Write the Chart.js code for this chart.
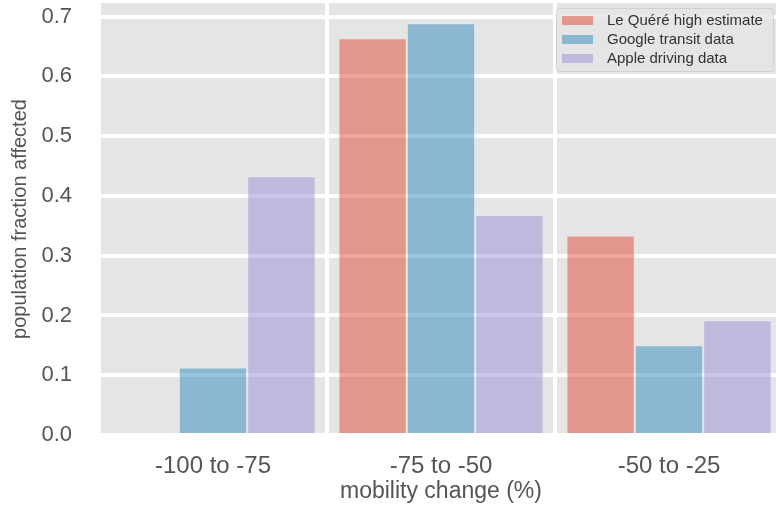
<!DOCTYPE html>
<html>
<head>
<meta charset="utf-8">
<script src="https://cdn.jsdelivr.net/npm/chart.js@4/dist/chart.umd.min.js"></script>
<style>
  html, body { margin: 0; padding: 0; background: #fff; overflow: hidden; }
</style>
</head>
<body>
<canvas id="mobilityChart" width="790" height="508"></canvas>
<script>
// Mobility change bins (x categories)
const categories = ['-100 to -75', '-75 to -50', '-50 to -25'];

// Population fraction per bin, one array per source
const lequereHigh = [0, 0.664, 0.334];
const googleTransit = [0.113, 0.689, 0.150];
const appleDriving = [0.433, 0.368, 0.192];

// Y axis tick values
const yTicks = [0, 0.1, 0.2, 0.3, 0.4, 0.5, 0.6, 0.7];

const FONT = "'Liberation Sans', Arial, sans-serif";

// Grey panel behind the bars (ggplot look)
const panelBackground = {
    id: 'panelBackground',
    beforeDraw(chart) {
        const { ctx, chartArea: a } = chart;
        ctx.save();
        ctx.fillStyle = '#E5E5E5';
        ctx.fillRect(a.left, a.top, a.right - a.left, a.bottom - a.top);
        ctx.restore();
    }
};

// Legend box in the top right corner
const boxLegend = {
    id: 'boxLegend',
    afterDraw(chart) {
        const ctx = chart.ctx;
        const x = 556, y = 8, w = 217, h = 63;
        ctx.save();
        ctx.beginPath();
        ctx.roundRect(x + 0.5, y + 0.5, w, h, 3);
        ctx.fillStyle = 'rgba(229,229,229,0.8)';
        ctx.fill();
        ctx.strokeStyle = 'rgba(204,204,204,0.8)';
        ctx.lineWidth = 1;
        ctx.stroke();
        ctx.font = '15px ' + FONT;
        ctx.textBaseline = 'middle';
        chart.data.datasets.forEach((ds, i) => {
            const rowY = 20 + i * 19;
            ctx.fillStyle = ds.backgroundColor;
            ctx.fillRect(562, rowY - 4, 31, 9);
            ctx.fillStyle = '#333';
            ctx.fillText(ds.label, 607, rowY + 1);
        });
        ctx.restore();
    }
};

const ctx = document.getElementById('mobilityChart').getContext('2d');

new Chart(ctx, {
    type: 'bar',
    data: {
        labels: categories,
        datasets: [
            { label: 'Le Quéré high estimate', data: lequereHigh, backgroundColor: 'rgba(226,74,51,0.5)' },
            { label: 'Google transit data', data: googleTransit, backgroundColor: 'rgba(52,138,189,0.5)' },
            { label: 'Apple driving data', data: appleDriving, backgroundColor: 'rgba(152,142,213,0.5)' }
        ].map(d => Object.assign(d, {
            borderColor: 'rgba(238,238,238,0.5)',
            borderWidth: 1,
            categoryPercentage: 0.9,
            barPercentage: 1.0
        }))
    },
    options: {
        responsive: false,
        animation: false,
        devicePixelRatio: 1,
        layout: { padding: { left: 0, right: 7, top: 3, bottom: 0 } },
        plugins: {
            legend: { display: false },
            tooltip: { enabled: false }
        },
        scales: {
            x: {
                offset: true,
                grid: { offset: true, color: '#fff', lineWidth: 4, drawTicks: false },
                border: { display: false },
                ticks: { color: '#555', font: { family: FONT, size: 24 }, padding: 17 },
                title: {
                    display: true,
                    text: 'mobility change (%)',
                    color: '#555',
                    font: { family: FONT, size: 23 },
                    padding: { top: 0, bottom: 3 }
                },
                afterFit(scale) {
                    scale.height = 73;
                    scale.paddingLeft = 0;
                    scale.paddingRight = 0;
                }
            },
            y: {
                min: 0,
                max: 0.7228,
                grid: { color: '#fff', lineWidth: 4, drawTicks: false },
                border: { display: false },
                ticks: {
                    color: '#555',
                    font: { family: FONT, size: 22 },
                    padding: 27,
                    callback: v => v.toFixed(1)
                },
                afterBuildTicks(scale) {
                    scale.ticks = yTicks.map(v => ({ value: v }));
                },
                title: {
                    display: true,
                    text: 'population fraction affected',
                    color: '#555',
                    font: { family: FONT, size: 20 },
                    padding: { top: 8, bottom: 0 }
                },
                afterFit(scale) {
                    scale.width = 99;
                    scale.paddingTop = 0;
                    scale.paddingBottom = 0;
                }
            }
        }
    },
    plugins: [panelBackground, boxLegend]
});
</script>
</body>
</html>
